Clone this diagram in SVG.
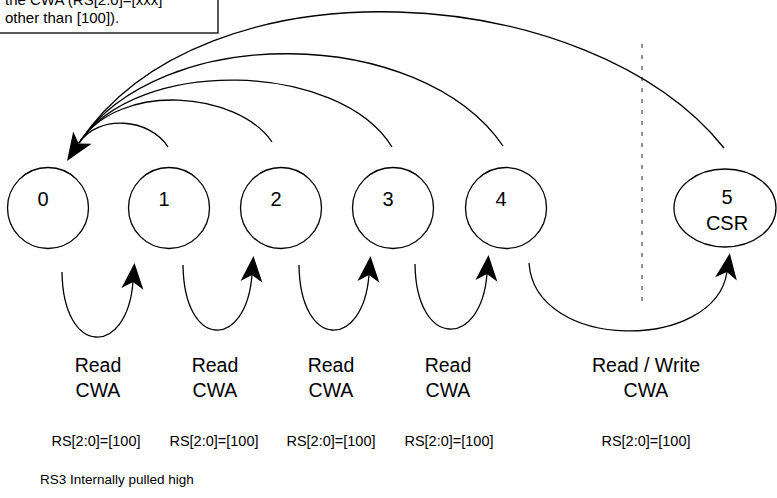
<svg xmlns="http://www.w3.org/2000/svg" width="777" height="498" viewBox="0 0 777 498">
<style>
  text { font-family: "Liberation Sans", Arial, sans-serif; fill: #000; }
  .node { fill: #fff; stroke: #000; stroke-width: 1.3; }
  .num { font-size: 20px; text-anchor: middle; }
  .lbl { font-size: 19.5px; text-anchor: middle; }
  .rs { font-size: 14.5px; text-anchor: middle; }
  .note { font-size: 15px; }
  .edge { fill: none; stroke: #000; stroke-width: 1.3; }
  .loop { fill: none; stroke: #000; stroke-width: 1.3; marker-end: url(#ah); }
  .dash { stroke: #444; stroke-width: 1.2; stroke-dasharray: 4 7; }
</style>
<defs>
  <marker id="ah" markerUnits="userSpaceOnUse" markerWidth="28" markerHeight="26" viewBox="0 -13 28 26" refX="7" refY="0" orient="auto" overflow="visible">
    <path d="M26,0 L0,-11 L7,0 L0,11 Z" fill="#000"/>
  </marker>
</defs>

<g id="note">
  <rect x="-2" y="-20" width="220" height="53" fill="#fff" stroke="#000" stroke-width="1.3"/>
  <text class="note" x="5" y="5">the CWA (RS[2:0]=[xxx]</text>
  <text class="note" x="5" y="23">other than [100]).</text>
</g>

<line id="divider" class="dash" x1="642" y1="44" x2="642" y2="307"/>

<g id="connectors">
  <path class="edge" d="M168,147 C150,118 98,114 79,143"/>
  <path class="edge" d="M272,142 C238,92 120,80 79,143"/>
  <path class="edge" d="M392,147 C340,62 137,55 79,143"/>
  <path class="edge" d="M503,146 C420,25 159,22 79,143"/>
  <path class="edge" d="M724,148 C590,-20 203,-45 79,143"/>
  <polygon points="67,161 91.6,143.7 78.6,143.5 73.2,131.5" fill="#000"/>

  <path class="loop" d="M62,272 C63,357 127,357 133,282"/>
  <path class="loop" d="M183,265 C184,350 246,350 252,275"/>
  <path class="loop" d="M299,265 C300,350 363,350 369,275"/>
  <path class="loop" d="M415,264 C416,349 481,349 487,274"/>
  <path class="loop" d="M529,263 C535,352 715,352 727,272"/>
</g>

<g id="n0"><circle class="node" cx="48" cy="208" r="40.5"/><text class="num" x="43" y="206">0</text></g>
<g id="n1"><circle class="node" cx="169" cy="208" r="40.5"/><text class="num" x="164" y="206">1</text></g>
<g id="n2"><circle class="node" cx="281" cy="208" r="40.5"/><text class="num" x="276" y="206">2</text></g>
<g id="n3"><circle class="node" cx="393" cy="208" r="40.5"/><text class="num" x="388" y="206">3</text></g>
<g id="n4"><circle class="node" cx="506" cy="208" r="40.5"/><text class="num" x="501" y="206">4</text></g>
<g id="n5"><ellipse class="node" cx="725" cy="208" rx="51" ry="39"/><text class="num" x="727" y="204">5</text><text class="num" x="727" y="230">CSR</text></g>

<g id="labels">
  <text class="lbl" x="98" y="372">Read</text><text class="lbl" x="98" y="397">CWA</text>
  <text class="lbl" x="215" y="372">Read</text><text class="lbl" x="215" y="397">CWA</text>
  <text class="lbl" x="331" y="372">Read</text><text class="lbl" x="331" y="397">CWA</text>
  <text class="lbl" x="448" y="372">Read</text><text class="lbl" x="448" y="397">CWA</text>
  <text class="lbl" x="646" y="372">Read / Write</text><text class="lbl" x="646" y="397">CWA</text>
  <text class="rs" x="96" y="446">RS[2:0]=[100]</text>
  <text class="rs" x="214" y="446">RS[2:0]=[100]</text>
  <text class="rs" x="331" y="446">RS[2:0]=[100]</text>
  <text class="rs" x="449" y="446">RS[2:0]=[100]</text>
  <text class="rs" x="646" y="446">RS[2:0]=[100]</text>
  <text x="40" y="484" style="font-size:13.5px">RS3 Internally pulled high</text>
</g>
</svg>
